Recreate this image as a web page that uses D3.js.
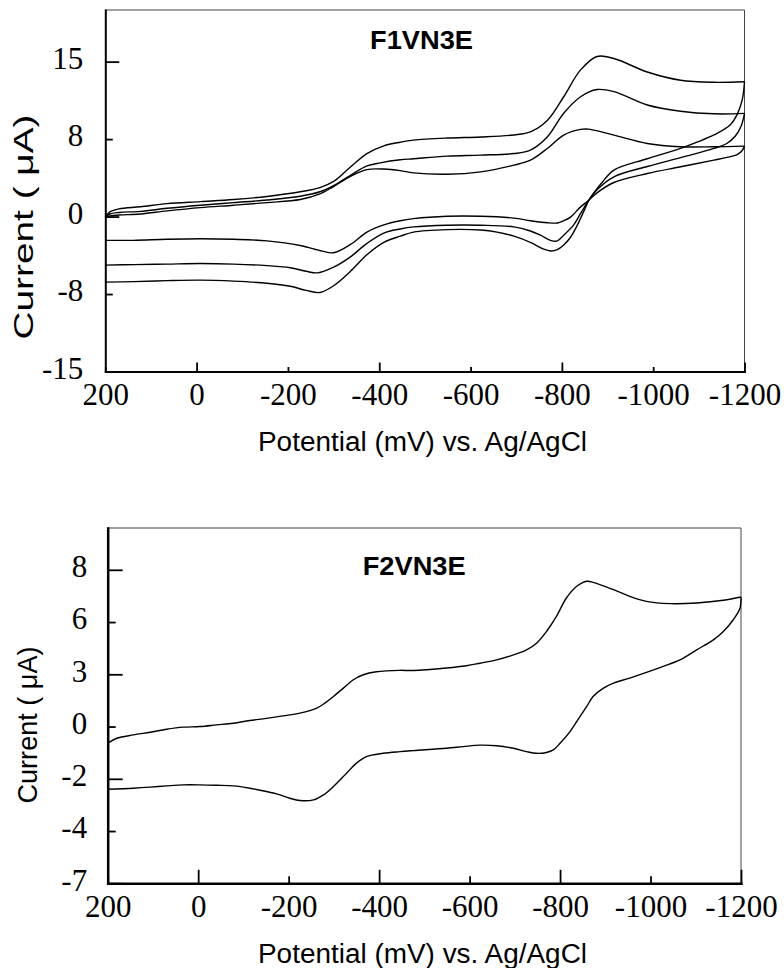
<!DOCTYPE html>
<html lang="en">
<head>
<meta charset="UTF-8">
<title>F1VN3E / F2VN3E</title>
<script src="https://cdn.jsdelivr.net/npm/d3@7"></script>
<style>
  body { margin: 0; background: #fff; }
  svg { display: block; }
  .tick text { font-family: "Liberation Serif", "Times New Roman", serif; font-size: 31px; fill: #000; }
  .lbl { font-family: "Liberation Sans", Arial, sans-serif; fill: #000; }
</style>
</head>
<body>
<script>
// potential axis (mV vs Ag/AgCl), shared by both panels
const xTickValues = [200, 0, -200, -400, -600, -800, -1000, -1200]
const xTickLabels = ["200", "0", "-200", "-400", "-600", "-800", "-1000", "-1200"]
const xMajorTicks = [0, -400, -800, -1200]

// F1VN3E current axis
const topYTicks = [-15, -7.5, 0, 7.5, 15]
const topYLabels = ["-15", "-8", "0", "8", "15"]
const topYMajor = [-15, 0, 15]

// F2VN3E current axis
const botYTicks = [-7.5, -5, -2.5, 0, 2.5, 5, 7.5]
const botYLabels = ["-7", "-4", "-2", "0", "3", "6", "8"]
const botYMajor = [-7.5, -2.5, 2.5, 7.5]

// F1VN3E, three scans: [potential mV, current uA]
const f1Scan1Fwd = [[200,-0.05],[190,0.45],[170,0.75],[123,0.95],[65,1.25],[-8,1.45],[-81,1.65],[-154,1.95],[-227,2.4],[-270,2.8],[-300,3.4],[-337,4.8],[-373,6.1],[-410,6.85],[-446,7.2],[-475,7.4],[-549,7.6],[-622,7.7],[-695,7.9],[-731,8.2],[-768,9.3],[-804,11.6],[-841,14.2],[-877,15.5],[-914,15.3],[-987,14.0],[-1060,13.2],[-1133,13.0],[-1200,13.06]]
const f1Scan1Rev = [[-1200,13.06],[-1195,11.3],[-1184,9.9],[-1169,8.9],[-1133,7.9],[-1096,7.2],[-1060,6.6],[-987,5.6],[-914,4.5],[-888,3.3],[-870,2.3],[-859,1.58],[-848,0.5],[-833,-0.9],[-819,-2.0],[-804,-2.75],[-790,-3.2],[-775,-3.33],[-760,-3.15],[-731,-2.5],[-695,-1.9],[-658,-1.5],[-622,-1.3],[-549,-1.26],[-475,-1.5],[-446,-1.9],[-410,-2.5],[-373,-3.7],[-337,-5.3],[-300,-6.7],[-270,-7.35],[-240,-7.15],[-205,-6.75],[-154,-6.45],[-81,-6.25],[-8,-6.15],[65,-6.2],[138,-6.3],[200,-6.35]]

const f1Scan2Fwd = [[200,-0.05],[190,0.25],[170,0.4],[123,0.5],[65,0.8],[-8,1.1],[-81,1.35],[-154,1.6],[-227,1.97],[-270,2.4],[-300,3.0],[-337,4.0],[-373,4.9],[-402,5.2],[-446,5.5],[-475,5.6],[-549,5.85],[-622,5.95],[-695,6.1],[-731,6.43],[-768,7.7],[-804,10.0],[-841,11.6],[-877,12.3],[-914,12.1],[-987,10.8],[-1060,10.2],[-1133,9.95],[-1200,9.99]]
const f1Scan2Rev = [[-1200,9.99],[-1193,8.8],[-1180,7.8],[-1162,7.1],[-1133,6.6],[-1060,5.7],[-987,4.85],[-914,3.85],[-877,2.6],[-859,1.58],[-841,0.3],[-826,-0.8],[-804,-1.8],[-790,-2.36],[-775,-2.3],[-753,-1.8],[-731,-1.4],[-695,-1.0],[-622,-0.84],[-549,-0.84],[-475,-1.0],[-446,-1.2],[-410,-1.6],[-373,-2.6],[-337,-3.9],[-300,-4.9],[-265,-5.45],[-240,-5.3],[-205,-4.95],[-154,-4.75],[-81,-4.6],[-8,-4.55],[65,-4.6],[138,-4.65],[200,-4.7]]

const f1Scan3Fwd = [[200,-0.05],[190,0.05],[170,0.15],[123,0.25],[65,0.55],[-8,0.87],[-81,1.1],[-154,1.35],[-227,1.65],[-270,2.2],[-300,2.9],[-337,3.9],[-373,4.55],[-410,4.6],[-446,4.45],[-475,4.23],[-549,4.1],[-622,4.33],[-695,4.98],[-731,5.46],[-768,6.59],[-804,7.89],[-841,8.44],[-859,8.47],[-914,7.89],[-987,7.08],[-1060,6.76],[-1133,6.76],[-1200,6.82]]
const f1Scan3Rev = [[-1200,6.82],[-1195,6.4],[-1184,6.0],[-1169,5.8],[-1133,5.46],[-1060,4.82],[-987,4.17],[-914,3.3],[-877,2.3],[-859,1.58],[-841,0.94],[-819,-0.05],[-804,-0.4],[-790,-0.62],[-768,-0.6],[-731,-0.4],[-695,-0.15],[-622,0.03],[-549,0.03],[-475,-0.2],[-446,-0.4],[-410,-0.8],[-373,-1.5],[-337,-2.7],[-300,-3.5],[-275,-3.35],[-227,-2.8],[-154,-2.35],[-81,-2.2],[-8,-2.15],[65,-2.2],[138,-2.3],[200,-2.3]]

// F2VN3E, single scan
const f2Fwd = [[200,-0.8],[180,-0.56],[143,-0.4],[106,-0.27],[70,-0.13],[33,-0.03],[-4,0.0],[-41,0.08],[-78,0.16],[-114,0.29],[-151,0.39],[-188,0.51],[-225,0.64],[-262,0.88],[-280,1.12],[-299,1.44],[-321,1.84],[-343,2.24],[-365,2.48],[-394,2.62],[-446,2.69],[-476,2.68],[-549,2.8],[-593,2.91],[-623,3.03],[-660,3.19],[-697,3.43],[-726,3.67],[-748,3.99],[-770,4.55],[-792,5.27],[-814,6.15],[-837,6.71],[-859,6.95],[-873,6.9],[-918,6.55],[-954,6.23],[-991,5.99],[-1043,5.88],[-1102,5.91],[-1161,6.04],[-1200,6.2]]
const f2Rev = [[-1200,6.2],[-1198,5.67],[-1183,5.11],[-1161,4.55],[-1139,4.15],[-1102,3.67],[-1065,3.19],[-1028,2.88],[-991,2.59],[-954,2.32],[-918,2.08],[-896,1.84],[-873,1.44],[-859,0.96],[-844,0.48],[-822,-0.24],[-800,-0.8],[-785,-1.12],[-770,-1.24],[-748,-1.28],[-726,-1.2],[-697,-1.04],[-660,-0.92],[-623,-0.89],[-586,-0.96],[-549,-1.04],[-476,-1.15],[-446,-1.2],[-409,-1.28],[-372,-1.44],[-350,-1.75],[-328,-2.23],[-299,-2.87],[-277,-3.27],[-255,-3.51],[-225,-3.54],[-203,-3.43],[-181,-3.27],[-151,-3.11],[-114,-2.95],[-78,-2.84],[-41,-2.81],[-4,-2.79],[33,-2.79],[70,-2.84],[106,-2.9],[143,-2.95],[200,-3.0]]

const width = 784
const height = 968

const svg = d3.select("body").append("svg")
    .attr("width", width)
    .attr("height", height)

function drawPanel(p) {
    const x = d3.scaleLinear().domain([200, -1200]).range([p.left, p.right])
    const y = d3.scaleLinear().domain(p.yDomain).range([p.bottom, p.top])
    const g = svg.append("g")

    // thin top / right frame
    g.append("path")
        .attr("d", `M${p.left},${p.top}H${p.right}V${p.bottom}`)
        .attr("fill", "none")
        .attr("stroke", "#444")
        .attr("stroke-width", 1)

    const line = d3.line()
        .x(d => x(d[0]))
        .y(d => y(d[1]))
        .curve(d3.curveCatmullRom.alpha(0.5))

    g.selectAll("path.cv")
        .data(p.branches)
        .enter()
        .append("path")
        .attr("class", "cv")
        .attr("d", line)
        .attr("fill", "none")
        .attr("stroke", "#000")
        .attr("stroke-width", 1.4)

    // x axis, ticks point inward
    const xa = g.append("g")
        .attr("transform", `translate(0,${p.bottom})`)
        .call(d3.axisBottom(x)
            .tickValues(xTickValues)
            .tickFormat((d, i) => xTickLabels[i])
            .tickSizeInner(-p.xMinor)
            .tickSizeOuter(0)
            .tickPadding(p.xPad))
    xa.selectAll(".tick line")
        .attr("y2", d => xMajorTicks.includes(d) ? -p.xMajor : -p.xMinor)
        .attr("stroke-width", 1.8)

    // y axis
    const ya = g.append("g")
        .attr("transform", `translate(${p.left},0)`)
        .call(d3.axisLeft(y)
            .tickValues(p.yTicks)
            .tickFormat((d, i) => p.yLabels[i])
            .tickSizeInner(-p.yMinor)
            .tickSizeOuter(0)
            .tickPadding(p.yPad))
    ya.selectAll(".tick line")
        .attr("x2", d => p.yMajor.includes(d) ? p.yMajorLen : p.yMinor)
        .attr("stroke-width", 1.8)
    ya.selectAll(".tick text").attr("dy", "0.22em")

    ;[xa, ya].forEach(a => a.select(".domain")
        .attr("stroke-width", p.axisWidth)
        .attr("stroke-linecap", "square"))

    g.append("text")
        .attr("class", "lbl")
        .attr("x", p.titleX)
        .attr("y", p.titleY)
        .attr("font-size", 26)
        .attr("font-weight", "bold")
        .attr("textLength", 103)
        .attr("lengthAdjust", "spacingAndGlyphs")
        .text(p.title)

    g.append("text")
        .attr("class", "lbl")
        .attr("x", 258)
        .attr("y", p.xLabelY)
        .attr("font-size", 27)
        .attr("textLength", 329)
        .attr("lengthAdjust", "spacingAndGlyphs")
        .text("Potential (mV) vs. Ag/AgCl")

    g.append("text")
        .attr("class", "lbl")
        .attr("transform", `translate(${p.yLabelX},${p.yLabelY}) rotate(-90)`)
        .attr("text-anchor", "middle")
        .attr("font-size", 28)
        .attr("textLength", p.yLabelLen)
        .attr("lengthAdjust", "spacingAndGlyphs")
        .text("Current ( \u03bcA)")
}

drawPanel({
    left: 105.3, right: 744.5, top: 10, bottom: 371.5,
    yDomain: [-15, 20],
    yTicks: topYTicks, yLabels: topYLabels, yMajor: topYMajor,
    xMinor: 4.5, xMajor: 9, yMinor: 7.5, yMajorLen: 14,
    xPad: 11.5, yPad: 22, axisWidth: 2,
    branches: [f1Scan1Fwd, f1Scan1Rev, f1Scan2Fwd, f1Scan2Rev, f1Scan3Fwd, f1Scan3Rev],
    title: "F1VN3E", titleX: 370, titleY: 49.3,
    xLabelY: 451,
    yLabelX: 33, yLabelY: 227, yLabelLen: 225
})

drawPanel({
    left: 107.7, right: 741, top: 528, bottom: 883.3,
    yDomain: [-7.5, 9.5],
    yTicks: botYTicks, yLabels: botYLabels, yMajor: botYMajor,
    xMinor: 7, xMajor: 13.5, yMinor: 8, yMajorLen: 15,
    xPad: 12, yPad: 20.5, axisWidth: 2.5,
    branches: [f2Fwd, f2Rev],
    title: "F2VN3E", titleX: 362.7, titleY: 575,
    xLabelY: 963,
    yLabelX: 36.7, yLabelY: 725, yLabelLen: 157
})
</script>
</body>
</html>
